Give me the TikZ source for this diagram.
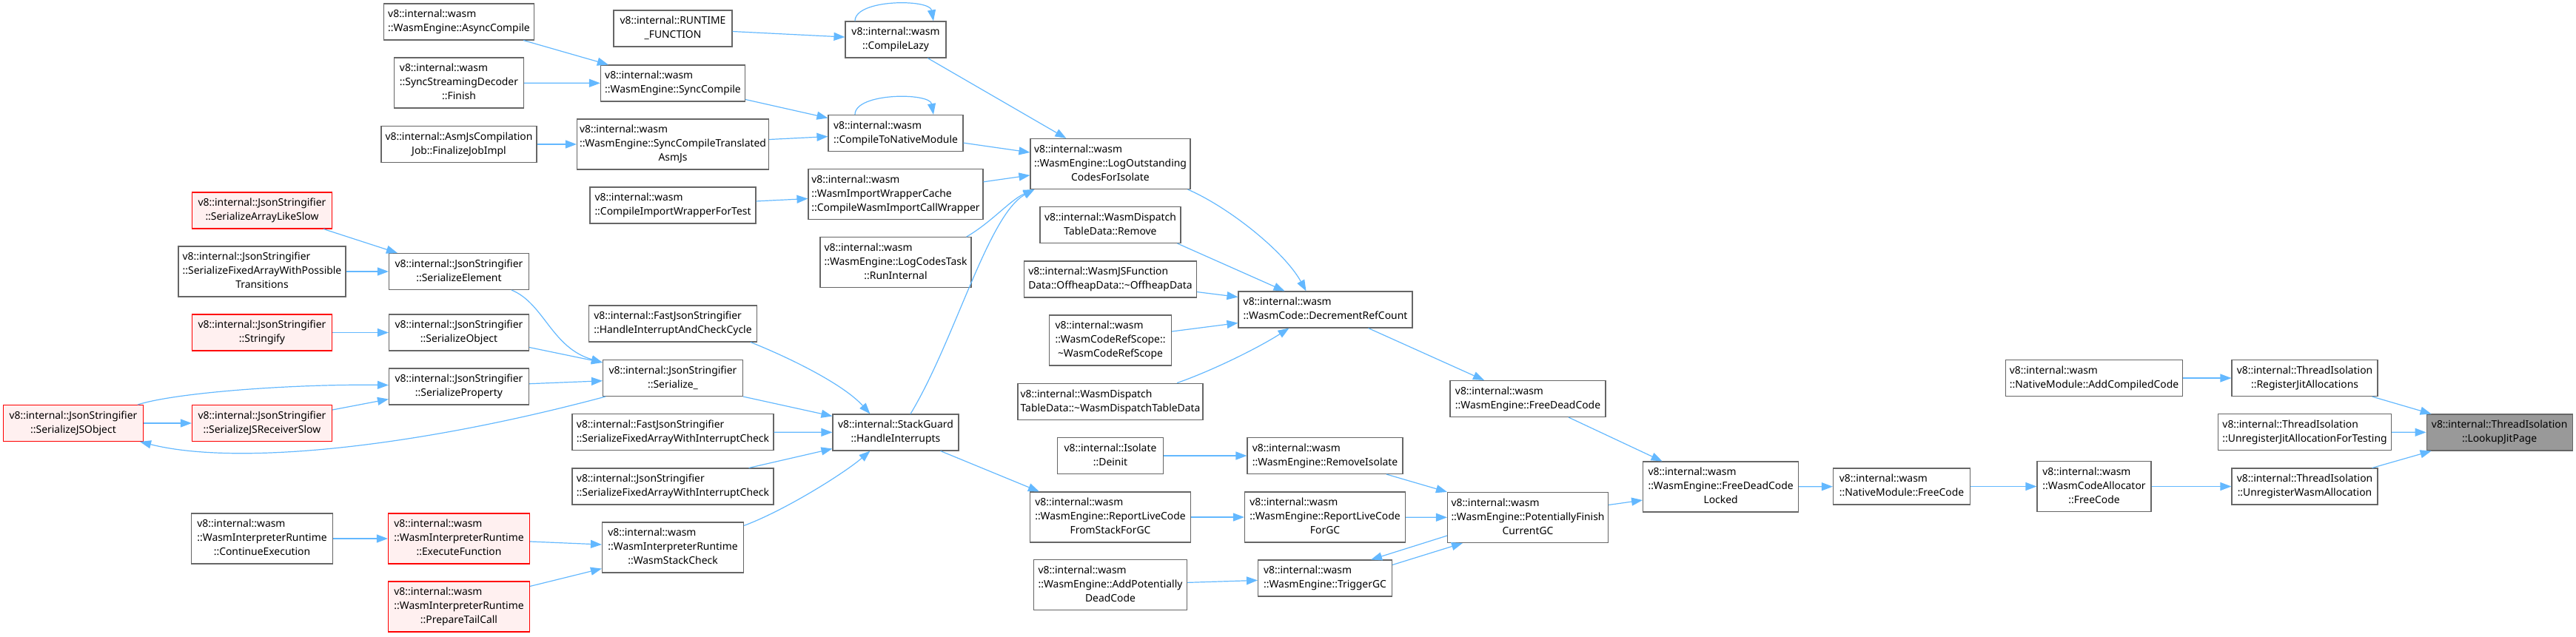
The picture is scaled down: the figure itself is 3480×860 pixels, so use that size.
\documentclass[tikz,border=0pt]{standalone}
\usepackage{fontspec}
\setmainfont{Noto Sans}
\usetikzlibrary{arrows.meta}
\definecolor{edgec}{HTML}{63B8FF}
\definecolor{bordc}{HTML}{666666}
\definecolor{redb}{HTML}{FF0000}
\definecolor{redf}{HTML}{FFF0F0}
\definecolor{hlf}{HTML}{999999}
\newcommand\TwoL[2]{\begin{tabular}{@{}l@{}}#1\\\multicolumn{1}{@{}c@{}}{#2}\end{tabular}}
\newcommand\ThreeL[3]{\begin{tabular}{@{}l@{}}#1\\#2\\\multicolumn{1}{@{}c@{}}{#3}\end{tabular}}
\tikzset{
  nd/.style={draw=bordc, fill=white, line width=1.1pt, inner xsep=3pt, inner ysep=5.5pt,
    font=\fontsize{13.9}{19}\selectfont, text=black},
  rd/.style={nd, draw=redb, fill=redf},
  hl/.style={nd, fill=hlf},
  bw/.style={minimum width=#1pt},
  cg/.style={draw=edgec, line width=1.2pt, -{Triangle[length=15pt,width=11pt]}, fill=none},
}
\begin{document}
\begin{tikzpicture}[x=1pt,y=-1pt]
\useasboundingbox (0,0) rectangle (3480,860);
% column 0
\node[rd,bw=189] (sjo) at (99,572) {\TwoL{v8::internal::JsonStringifier}{::SerializeJSObject}};
% column 1
\node[rd,bw=189] (sals) at (354,284.5) {\TwoL{v8::internal::JsonStringifier}{::SerializeArrayLikeSlow}};
\node[nd,bw=226] (sfapt) at (354,367) {\ThreeL{v8::internal::JsonStringifier}{::SerializeFixedArrayWithPossible}{Transitions}};
\node[rd,bw=189] (str) at (354,449.5) {\TwoL{v8::internal::JsonStringifier}{::Stringify}};
\node[rd,bw=189] (sjrs) at (354,572) {\TwoL{v8::internal::JsonStringifier}{::SerializeJSReceiverSlow}};
\node[nd,bw=191] (cont) at (354,728) {\ThreeL{v8::internal::wasm}{::WasmInterpreterRuntime}{::ContinueExecution}};
% column 2
\node[nd,bw=203] (async) at (620,29.5) {\TwoL{v8::internal::wasm}{::WasmEngine::AsyncCompile}};
\node[nd,bw=175] (ssd) at (620,112) {\ThreeL{v8::internal::wasm}{::SyncStreamingDecoder}{::Finish}};
\node[nd,bw=210] (asmjs) at (620,195) {\TwoL{v8::internal::AsmJsCompilation}{Job::FinalizeJobImpl}};
\node[nd,bw=189] (sel) at (620,367) {\TwoL{v8::internal::JsonStringifier}{::SerializeElement}};
\node[nd,bw=189] (sob) at (620,449.5) {\TwoL{v8::internal::JsonStringifier}{::SerializeObject}};
\node[nd,bw=189] (spr) at (620,522.5) {\TwoL{v8::internal::JsonStringifier}{::SerializeProperty}};
\node[rd,bw=191] (exe) at (620,728) {\ThreeL{v8::internal::wasm}{::WasmInterpreterRuntime}{::ExecuteFunction}};
\node[rd,bw=191] (ptc) at (620,820) {\ThreeL{v8::internal::wasm}{::WasmInterpreterRuntime}{::PrepareTailCall}};
% column 3
\node[nd,bw=160] (rtf) at (909,38.5) {\TwoL{v8::internal::RUNTIME}{\_FUNCTION}};
\node[nd,bw=195] (sc) at (909,112.5) {\TwoL{v8::internal::wasm}{::WasmEngine::SyncCompile}};
\node[nd,bw=259] (sct) at (909,195) {\ThreeL{v8::internal::wasm}{::WasmEngine::SyncCompileTranslated}{AsmJs}};
\node[nd,bw=224] (ciw) at (909,277.5) {\TwoL{v8::internal::wasm}{::CompileImportWrapperForTest}};
\node[nd,bw=227] (hic) at (909,437.5) {\TwoL{v8::internal::FastJsonStringifier}{::HandleInterruptAndCheckCycle}};
\node[nd,bw=189] (ser) at (909,511) {\TwoL{v8::internal::JsonStringifier}{::Serialize\_}};
\node[nd,bw=272] (fsfa) at (909,584) {\TwoL{v8::internal::FastJsonStringifier}{::SerializeFixedArrayWithInterruptCheck}};
\node[nd,bw=272] (jsfa) at (909,657.5) {\TwoL{v8::internal::JsonStringifier}{::SerializeFixedArrayWithInterruptCheck}};
\node[nd,bw=191] (wsc) at (909,740) {\ThreeL{v8::internal::wasm}{::WasmInterpreterRuntime}{::WasmStackCheck}};
% column 4
\node[nd,bw=136] (cl) at (1210,53.5) {\TwoL{v8::internal::wasm}{::CompileLazy}};
\node[nd,bw=182] (ctnm) at (1210,180) {\TwoL{v8::internal::wasm}{::CompileToNativeModule}};
\node[nd,bw=236] (iwc) at (1210,262.7) {\ThreeL{v8::internal::wasm}{::WasmImportWrapperCache}{::CompileWasmImportCallWrapper}};
\node[nd,bw=204] (lct) at (1210,354.7) {\ThreeL{v8::internal::wasm}{::WasmEngine::LogCodesTask}{::RunInternal}};
\node[nd,bw=170] (sg) at (1210,584.5) {\TwoL{v8::internal::StackGuard}{::HandleInterrupts}};
% column 5
\node[nd,bw=216] (loc) at (1500,221.5) {\ThreeL{v8::internal::wasm}{::WasmEngine::LogOutstanding}{CodesForIsolate}};
\node[nd,bw=190] (rem) at (1500,304) {\TwoL{v8::internal::WasmDispatch}{TableData::Remove}};
\node[nd,bw=233] (off) at (1500,377.5) {\TwoL{v8::internal::WasmJSFunction}{Data::OffheapData::\textasciitilde OffheapData}};
\node[nd,bw=165] (crs) at (1500,460) {\ThreeL{v8::internal::wasm}{::WasmCodeRefScope::}{\textasciitilde WasmCodeRefScope}};
\node[nd,bw=250] (wdt) at (1500,542.7) {\TwoL{v8::internal::WasmDispatch}{TableData::\textasciitilde WasmDispatchTableData}};
\node[nd,bw=143] (deinit) at (1500,616) {\TwoL{v8::internal::Isolate}{::Deinit}};
\node[nd,bw=217] (rlfs) at (1500,699) {\ThreeL{v8::internal::wasm}{::WasmEngine::ReportLiveCode}{FromStackForGC}};
\node[nd,bw=207] (apd) at (1500,790.7) {\ThreeL{v8::internal::wasm}{::WasmEngine::AddPotentially}{DeadCode}};
% column 6
\node[nd,bw=235] (drc) at (1790.5,418.5) {\TwoL{v8::internal::wasm}{::WasmCode::DecrementRefCount}};
\node[nd,bw=210] (ri) at (1790,616) {\TwoL{v8::internal::wasm}{::WasmEngine::RemoveIsolate}};
\node[nd,bw=217] (rlc) at (1790,699) {\ThreeL{v8::internal::wasm}{::WasmEngine::ReportLiveCode}{ForGC}};
\node[nd,bw=181] (tgc) at (1790,781.5) {\TwoL{v8::internal::wasm}{::WasmEngine::TriggerGC}};
% column 7
\node[nd,bw=210] (fdc) at (2064,539) {\TwoL{v8::internal::wasm}{::WasmEngine::FreeDeadCode}};
\node[nd,bw=217] (pfc) at (2064,699.5) {\ThreeL{v8::internal::wasm}{::WasmEngine::PotentiallyFinish}{CurrentGC}};
% column 8-12
\node[nd,bw=210] (fdcl) at (2324.6,658) {\ThreeL{v8::internal::wasm}{::WasmEngine::FreeDeadCode}{Locked}};
\node[nd,bw=185] (nmfc) at (2569,657.5) {\TwoL{v8::internal::wasm}{::NativeModule::FreeCode}};
\node[nd,bw=154] (wcafc) at (2829,657.5) {\ThreeL{v8::internal::wasm}{::WasmCodeAllocator}{::FreeCode}};
\node[nd,bw=239] (acc) at (2829,511) {\TwoL{v8::internal::wasm}{::NativeModule::AddCompiledCode}};
\node[nd,bw=197] (rja) at (3113.5,511) {\TwoL{v8::internal::ThreadIsolation}{::RegisterJitAllocations}};
\node[nd,bw=234] (ujaft) at (3113.5,584) {\TwoL{v8::internal::ThreadIsolation}{::UnregisterJitAllocationForTesting}};
\node[nd,bw=197] (uwa) at (3113.5,657.5) {\TwoL{v8::internal::ThreadIsolation}{::UnregisterWasmAllocation}};
\node[hl,bw=197] (ljp) at (3376.6,584.5) {\TwoL{v8::internal::ThreadIsolation}{::LookupJitPage}};
% edges
\draw[cg] (async) -- (sc);
\draw[cg] (ssd) -- (sc);
\draw[cg] (asmjs) -- (sct);
\draw[cg] (rtf) -- (cl);
\draw[cg] ([xshift=-55pt]cl.north) .. controls +(0,-30) and +(-5,-30) .. ([xshift=51pt]cl.north);
\draw[cg] (sc) -- (ctnm);
\draw[cg] (sct) -- (ctnm);
\draw[cg] ([xshift=-55pt]ctnm.north) .. controls +(0,-30) and +(-5,-30) .. ([xshift=51pt]ctnm.north);
\draw[cg] (ciw) -- (iwc);
\draw[cg] (cl) -- (loc);
\draw[cg] (ctnm) -- (loc);
\draw[cg] (iwc) -- (loc);
\draw[cg] ([xshift=-7pt]lct.north east) .. controls (1340,300) and (1365,270) .. ([xshift=6pt]loc.south west);
\draw[cg] ([xshift=20pt]sg.north) .. controls (1290,460) and (1335,290) .. ([xshift=6pt]loc.south west);
\draw[cg] ([xshift=-4pt]loc.south east) .. controls (1660,280) and (1735,340) .. ([xshift=-26pt]drc.north);
\draw[cg] ([xshift=-5pt]rem.south east) -- ([xshift=-55pt]drc.north);
\draw[cg] ([yshift=8pt]off.south east) -- ([yshift=17pt]drc.west);
\draw[cg] ([yshift=12pt]crs.east) -- ([yshift=-18pt]drc.west);
\draw[cg] ([xshift=90pt]wdt.north) .. controls (1640,500) and (1700,470) .. ([xshift=-49pt]drc.south);
\draw[cg] ([xshift=58pt]drc.south) -- ([xshift=-59pt]fdc.north);
\draw[cg] ([xshift=55pt]fdc.south) -- ([xshift=-79pt]fdcl.north);
\draw[cg] (deinit) -- (ri);
\draw[cg] ([xshift=83pt]ri.south) -- (pfc.north west);
\draw[cg] (rlfs) -- (rlc);
\draw[cg] (rlc) -- (pfc);
\draw[cg] (apd) -- (tgc);
\draw[cg] ([yshift=18pt]tgc.east) -- ([xshift=21pt]pfc.south west);
\draw[cg] ([yshift=10pt]pfc.south west) -- ([xshift=-29pt]tgc.north east);
\draw[cg] ([yshift=17pt]pfc.east) -- ([yshift=-18pt]fdcl.west);
\draw[cg] (fdcl) -- (nmfc);
\draw[cg] (nmfc) -- (wcafc);
\draw[cg] (wcafc) -- (uwa);
\draw[cg] (acc) -- (rja);
\draw[cg] ([xshift=-8pt]rja.south east) -- ([xshift=7pt]ljp.north west);
\draw[cg] (ujaft) -- (ljp);
\draw[cg] ([xshift=-8pt]uwa.north east) -- ([xshift=7pt]ljp.south west);
\draw[cg] ([xshift=-25pt]sg.south east) -- ([xshift=13pt]rlfs.north west);
\draw[cg] ([xshift=-9pt]hic.south east) .. controls (1070,485) and (1140,520) .. ([xshift=51pt]sg.north west);
\draw[cg] (ser.south east) -- ([yshift=22pt]sg.west);
\draw[cg] (fsfa) -- (sg);
\draw[cg] ([xshift=-34pt]jsfa.north east) -- ([yshift=-22pt]sg.west);
\draw[cg] ([yshift=-5pt]wsc.north east) .. controls (1060,690) and (1140,640) .. ([xshift=51pt]sg.south west);
\draw[cg] ([xshift=-24pt]sel.south east) .. controls (735,410) and (745,470) .. ([yshift=-4pt]ser.north west);
\draw[cg] ([yshift=-20pt]sob.east) -- ([yshift=-4pt]ser.north west);
\draw[cg] (spr) -- (ser);
\draw[cg] ([xshift=4pt]ser.south west) .. controls (560,605) and (320,630) .. ([xshift=-5pt]sjo.south east);
\draw[cg] ([xshift=-12pt]sals.south east) -- ([xshift=12pt]sel.north west);
\draw[cg] (sfapt) -- (sel);
\draw[cg] (str) -- (sob);
\draw[cg] ([xshift=-8pt]sjo.north east) .. controls (240,530) and (400,519) .. ([yshift=2pt]spr.west);
\draw[cg] ([yshift=18pt]sjrs.east) -- ([yshift=-17pt]spr.west);
\draw[cg] (sjo) -- (sjrs);
\draw[cg] (cont) -- (exe);
\draw[cg] (exe) -- (wsc);
\draw[cg] ([yshift=-7pt]ptc.north east) -- ([yshift=6pt]wsc.south west);
\end{tikzpicture}
\end{document}
